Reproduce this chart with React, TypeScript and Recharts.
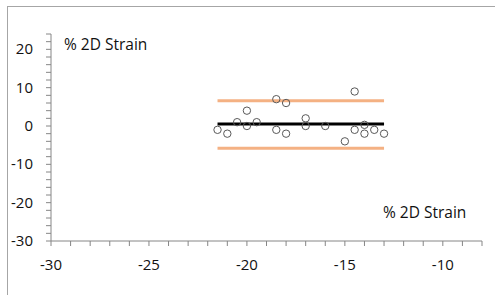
import { ScatterChart, Scatter, XAxis, YAxis, ReferenceLine, Customized } from "recharts";

/* data */
const strainX = [-21.5, -21, -20.5, -20, -20, -19.5, -18.5, -18, -18.5, -18, -17, -17, -16, -15, -14.5, -14.5, -14, -14, -13.5, -13];
const strainDiff = [-1, -2, 1, 4, 0, 1, 7, 6, -1, -2, 2, 0, 0, -4, 9, -1, 0.3, -2, -1, -2];

const xMajorTicks = [-30, -25, -20, -15, -10];
const yMajorTicks = [-30, -20, -10, 0, 10, 20];

const meanDiff = 0.5;
const upperLimit = 6.6;
const lowerLimit = -5.8;
const lineStart = -21.5;
const lineEnd = -13;

const axisLabel = "% 2D Strain";

const points = strainX.map((x, i) => ({ x, y: strainDiff[i] }));

// minor ticks: every 1 on x, every 2 on y
const xTicks: number[] = [];
for (let v = -30; v <= -8; v += 1) xTicks.push(v);
const yTicks: number[] = [];
for (let v = -30; v <= 24; v += 2) yTicks.push(v);

const AXIS = "#868686";
const FONT = "'Open Sans', sans-serif";

const XTick = (props: any) => {
  const { x, y, payload } = props;
  const major = xMajorTicks.includes(payload.value);
  return (
    <g>
      <line x1={x} x2={x} y1={y} y2={y + 5} stroke={AXIS} />
      {major && (
        <text x={x} y={y + 29} textAnchor="middle" fontSize={15} fill="#111" fontFamily={FONT}>
          {payload.value}
        </text>
      )}
    </g>
  );
};

const YTick = (props: any) => {
  const { x, y, payload } = props;
  const major = yMajorTicks.includes(payload.value);
  return (
    <g>
      <line x1={x - 5} x2={x} y1={y} y2={y} stroke={AXIS} />
      {major && (
        <text x={x - 18} y={y + 5} textAnchor="end" fontSize={15} fill="#111" fontFamily={FONT}>
          {payload.value}
        </text>
      )}
    </g>
  );
};

export default function App() {
  return (
    <div style={{ position: "absolute", left: 0, top: 0, width: 495, height: 295, background: "#fff", overflow: "hidden" }}>
      {/* chart frame, right and bottom edges fall outside the picture */}
      <div style={{ position: "absolute", left: 7, top: 6, width: 520, height: 320, borderLeft: "1px solid #a6a6a6", borderTop: "1px solid #a6a6a6" }} />
      <ScatterChart width={495} height={295} margin={{ top: 34, right: 13, left: 7, bottom: 14 }} style={{ position: "absolute", left: 0, top: 0 }}>
        <XAxis
          type="number"
          dataKey="x"
          domain={[-30, -8]}
          ticks={xTicks}
          interval={0}
          tickSize={0}
          tickMargin={0}
          tick={<XTick />}
          stroke={AXIS}
          height={40}
          allowDataOverflow
        />
        <YAxis
          type="number"
          dataKey="y"
          domain={[-30, 24]}
          ticks={yTicks}
          interval={0}
          tickSize={0}
          tickMargin={0}
          tick={<YTick />}
          stroke={AXIS}
          width={44}
          allowDataOverflow
        />
        <ReferenceLine segment={[{ x: lineStart, y: upperLimit }, { x: lineEnd, y: upperLimit }]} stroke="#F4B183" strokeWidth={3} />
        <ReferenceLine segment={[{ x: lineStart, y: lowerLimit }, { x: lineEnd, y: lowerLimit }]} stroke="#F4B183" strokeWidth={3} />
        <ReferenceLine segment={[{ x: lineStart, y: meanDiff }, { x: lineEnd, y: meanDiff }]} stroke="#000" strokeWidth={3} />
        <Scatter
          data={points}
          isAnimationActive={false}
          shape={(p: any) => <circle cx={p.cx} cy={p.cy} r={3.7} fill="none" stroke="#595959" strokeWidth={1} />}
        />
        <Customized
          component={() => (
            <g fontFamily={FONT} fontSize={15.5} fill="#111">
              <text x={64} y={50}>{axisLabel}</text>
              <text x={383} y={218}>{axisLabel}</text>
            </g>
          )}
        />
      </ScatterChart>
    </div>
  );
}
